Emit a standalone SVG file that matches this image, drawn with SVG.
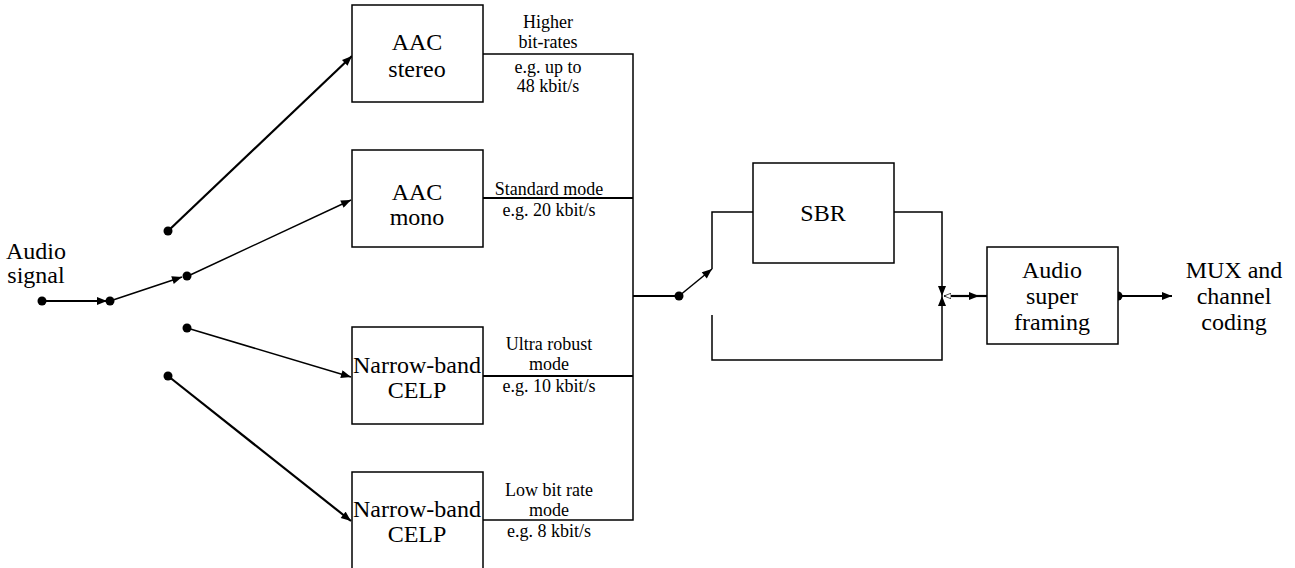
<svg xmlns="http://www.w3.org/2000/svg" width="1295" height="568" viewBox="0 0 1295 568">
<defs>
<marker id="ah" viewBox="0 0 10 8" refX="10" refY="4" markerWidth="11" markerHeight="8" markerUnits="userSpaceOnUse" orient="auto"><path d="M0,0 L10,4 L0,8 Z" fill="#000"/></marker>
<marker id="ahw" viewBox="0 0 10 8" refX="10" refY="4" markerWidth="7" markerHeight="6" markerUnits="userSpaceOnUse" orient="auto"><path d="M0,0 L10,4 L0,8 Z" fill="#fff" stroke="#000" stroke-width="1"/></marker>
</defs>
<style>
.box{fill:#fff;stroke:#000;stroke-width:1.5}
text{font-family:'Liberation Serif','Times New Roman',Times,serif;text-anchor:middle;fill:#000}
.t{font-size:24px}
.l{font-size:18px}
.w{fill:none;stroke:#000;stroke-width:1.5}
.k{fill:none;stroke:#000;stroke-width:2.2}
.d{fill:#000}
</style>
<rect width="1295" height="568" fill="#fff"/>
<g id="connectors">
<line class="k" x1="42" y1="301" x2="107" y2="301" marker-end="url(#ah)"/>
<line class="w" x1="110" y1="301" x2="182" y2="277" marker-end="url(#ah)"/>
<line class="k" x1="168" y1="231" x2="352" y2="56" marker-end="url(#ah)"/>
<line class="w" x1="188" y1="276" x2="351" y2="200" marker-end="url(#ah)"/>
<line class="w" x1="187" y1="328" x2="351" y2="377" marker-end="url(#ah)"/>
<line class="k" x1="168" y1="376" x2="351" y2="521" marker-end="url(#ah)"/>
<polyline class="w" points="483,54 633,54 633,520 483,520"/>
<line class="k" x1="483" y1="198" x2="633" y2="198"/>
<line class="k" x1="483" y1="376" x2="633" y2="376"/>
<line class="k" x1="633" y1="296" x2="679" y2="296"/>
<line class="w" x1="679" y1="296" x2="712" y2="269" marker-end="url(#ah)"/>
<polyline class="w" points="712,269 712,212 753,212"/>
<polyline class="w" points="712,315 712,360 942,360 942,296" marker-end="url(#ah)"/>
<polyline class="w" points="894,212 942,212 942,296" marker-end="url(#ah)"/>
<line class="w" x1="951" y1="296" x2="944" y2="296" marker-end="url(#ahw)"/>
<line class="k" x1="951" y1="296" x2="979" y2="296" marker-end="url(#ah)"/>
<line class="k" x1="979" y1="296" x2="987" y2="296"/>
<line class="k" x1="1118" y1="296" x2="1172" y2="296" marker-end="url(#ah)"/>
<circle class="d" cx="42" cy="301" r="4.5"/>
<circle class="d" cx="110" cy="301" r="4.5"/>
<circle class="d" cx="187" cy="276" r="4.5"/>
<circle class="d" cx="168" cy="231" r="4.5"/>
<circle class="d" cx="187" cy="328" r="4.5"/>
<circle class="d" cx="168" cy="376" r="4.5"/>
<circle class="d" cx="679" cy="296" r="4.5"/>
<circle class="d" cx="1118" cy="296" r="4.5"/>
</g>
<g id="audio-signal"><text class="t" x="36" y="259">Audio</text><text class="t" x="36" y="283">signal</text></g>
<g id="aac-stereo"><rect class="box" x="352" y="5" width="131" height="97"/><text class="t" x="417" y="50">AAC</text><text class="t" x="417" y="77">stereo</text></g>
<g id="aac-mono"><rect class="box" x="352" y="150" width="131" height="97"/><text class="t" x="417" y="200">AAC</text><text class="t" x="417" y="225">mono</text></g>
<g id="celp1"><rect class="box" x="352" y="327" width="131" height="97"/><text class="t" x="417" y="373">Narrow-band</text><text class="t" x="417" y="398">CELP</text></g>
<g id="celp2"><rect class="box" x="352" y="472" width="131" height="110"/><text class="t" x="417" y="517">Narrow-band</text><text class="t" x="417" y="542">CELP</text></g>
<g id="label-high"><text class="l" x="548" y="28">Higher</text><text class="l" x="548" y="48">bit-rates</text><text class="l" x="548" y="73">e.g. up to</text><text class="l" x="548" y="92">48 kbit/s</text></g>
<g id="label-std"><text class="l" x="549" y="195">Standard mode</text><text class="l" x="549" y="216">e.g. 20 kbit/s</text></g>
<g id="label-ultra"><text class="l" x="549" y="350">Ultra robust</text><text class="l" x="549" y="370">mode</text><text class="l" x="549" y="392">e.g. 10 kbit/s</text></g>
<g id="label-low"><text class="l" x="549" y="496">Low bit rate</text><text class="l" x="549" y="516">mode</text><text class="l" x="549" y="537">e.g. 8 kbit/s</text></g>
<g id="sbr"><rect class="box" x="753" y="163" width="141" height="100"/><text class="t" x="823" y="221">SBR</text></g>
<g id="super-framing"><rect class="box" x="987" y="247" width="131" height="97"/><text class="t" x="1052" y="278">Audio</text><text class="t" x="1052" y="304">super</text><text class="t" x="1052" y="330">framing</text></g>
<g id="mux"><text class="t" x="1234" y="278">MUX and</text><text class="t" x="1234" y="304">channel</text><text class="t" x="1234" y="330">coding</text></g>
</svg>
